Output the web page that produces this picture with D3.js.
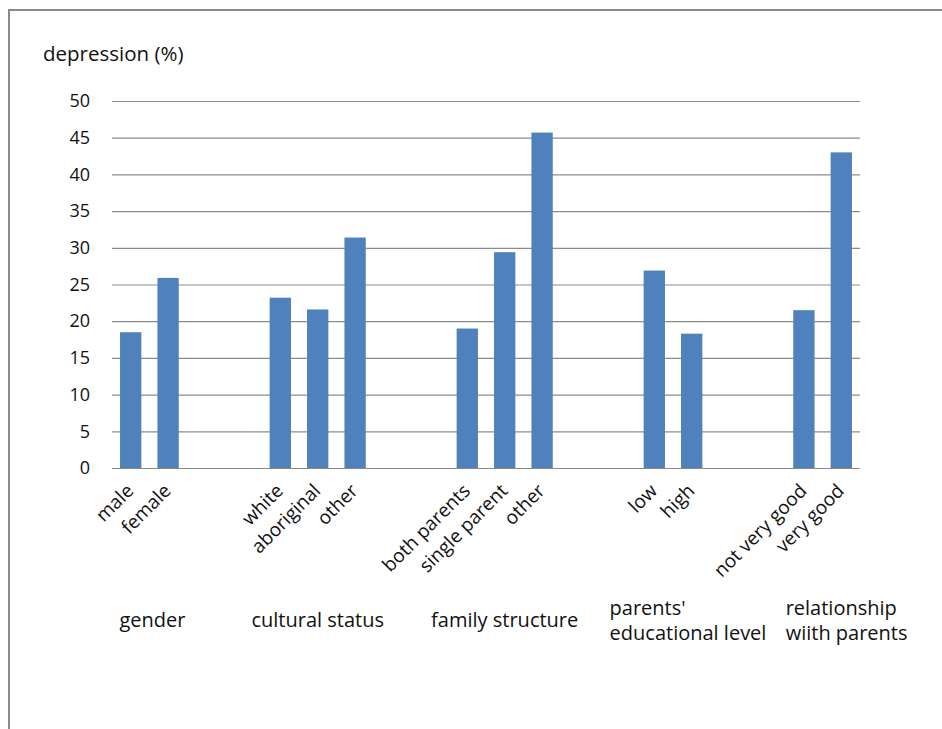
<!DOCTYPE html>
<html>
<head>
<meta charset="utf-8">
<script src="https://cdn.jsdelivr.net/npm/d3@7"></script>
<style>
  body { margin: 0; background: #fff; }
  text { font-family: "Open Sans", "Noto Sans", sans-serif; fill: #111; }
</style>
</head>
<body>
<svg width="942" height="729"></svg>
<script>
// data
var labels = ["male", "female", "white", "aboriginal", "other", "both parents", "single parent", "other", "low", "high", "not very good", "very good"];
var values = [18.5, 25.9, 23.2, 21.6, 31.4, 19.0, 29.4, 45.7, 26.9, 18.3, 21.5, 43.0];
var groupOf = [0, 0, 1, 1, 1, 2, 2, 2, 3, 3, 4, 4];
var groups = [["gender"], ["cultural status"], ["family structure"], ["parents'", "educational level"], ["relationship", "wiith parents"]];
var yTicks = [0, 5, 10, 15, 20, 25, 30, 35, 40, 45, 50];

var svg = d3.select("svg"),
    plotL = 112, plotR = 860, plotT = 101, plotB = 468;

// frame lines (left + top)
svg.append("path")
    .attr("d", "M9,729V10H942")
    .attr("fill", "none")
    .attr("stroke", "#8a8a8a")
    .attr("stroke-width", 2);

// every group gets 2 empty slots after it
var slot = labels.map(function(d, i) { return i + groupOf[i] * 2; });

var x = d3.scaleBand()
    .domain(d3.range(20))
    .range([plotL, plotR])
    .paddingInner(0.43)
    .paddingOuter(0.215);

var y = d3.scaleLinear().domain([0, 50]).range([plotB, plotT]);

// gridlines + y labels
var yAxis = svg.append("g")
    .attr("transform", "translate(" + plotL + ",0)")
    .call(d3.axisLeft(y).tickValues(yTicks).tickSize(-(plotR - plotL)).tickPadding(22));
yAxis.select(".domain").remove();
yAxis.selectAll("line").attr("stroke", "#8c8c8c").attr("stroke-width", 1.2);
yAxis.selectAll("text").attr("font-size", 18).attr("fill", "#111")
    .style("font-family", "'Open Sans', sans-serif");

svg.append("text")
    .attr("x", 43).attr("y", 61)
    .attr("font-size", 20.5)
    .text("depression (%)");

// bars
svg.append("g").selectAll("rect")
    .data(values)
    .enter()
    .append("rect")
    .attr("x", function(d, i) { return x(slot[i]); })
    .attr("width", x.bandwidth())
    .attr("y", function(d) { return y(d); })
    .attr("height", function(d) { return y(0) - y(d); })
    .attr("fill", "#4f81bd");

// category labels, rotated
svg.append("g").selectAll("text")
    .data(labels)
    .enter()
    .append("text")
    .attr("transform", function(d, i) {
        return "translate(" + (x(slot[i]) + x.bandwidth() / 2 + 4) + ",492) rotate(-45)";
    })
    .attr("text-anchor", "end")
    .attr("font-size", 19)
    .text(function(d) { return d; });

// group labels (multi-line ones are left-aligned blocks)
var groupShift = [3, 0, 0, 15, 24];
groups.forEach(function(lines, g) {
    var idx = d3.range(labels.length).filter(function(i) { return groupOf[i] === g; });
    var cx = (x(slot[idx[0]]) + x(slot[idx[idx.length - 1]]) + x.bandwidth()) / 2 + groupShift[g];
    var t = svg.append("text")
        .attr("font-size", 20)
        .attr("y", lines.length > 1 ? 615 : 627);
    var spans = lines.map(function(l, k) {
        return t.append("tspan").attr("dy", k ? 25 : 0).text(l);
    });
    var w = d3.max(spans, function(s) { return s.node().getComputedTextLength(); });
    spans.forEach(function(s) { s.attr("x", cx - w / 2); });
});
</script>
</body>
</html>
